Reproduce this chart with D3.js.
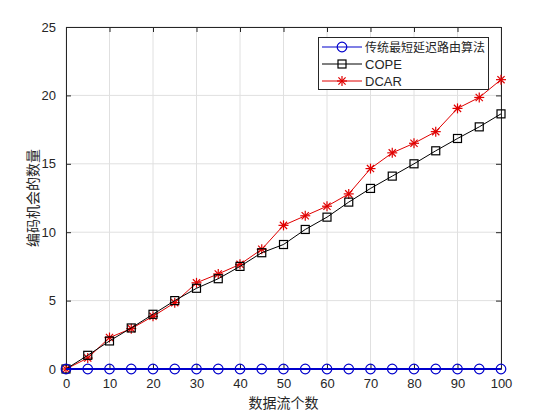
<!DOCTYPE html>
<html><head><meta charset="utf-8">
<script src="https://cdn.jsdelivr.net/npm/d3@7"></script>
<style>body{margin:0;background:#fff}svg{display:block}</style>
</head><body>
<script>
const xValues = [0,5,10,15,20,25,30,35,40,45,50,55,60,65,70,75,80,85,90,95,100];
const shortestPath = [0,0,0,0,0,0,0,0,0,0,0,0,0,0,0,0,0,0,0,0,0];
const cope = [0,1.0,2.05,3.0,4.0,5.0,5.9,6.6,7.5,8.5,9.1,10.2,11.1,12.2,13.2,14.1,15.0,15.95,16.85,17.7,18.65];
const dcar = [0,0.8,2.3,2.95,3.85,4.85,6.3,6.95,7.65,8.75,10.5,11.2,11.9,12.8,14.65,15.8,16.5,17.35,19.05,19.85,21.15];
const seriesNames = ["传统最短延迟路由算法","COPE","DCAR"];
const xTicks = [0,10,20,30,40,50,60,70,80,90,100];
const yTicks = [0,5,10,15,20,25];

const W=556,H=412;
const m={l:66,r:55,t:27,b:43};
const svg=d3.select("body").append("svg").attr("width",W).attr("height",H);
const x=d3.scaleLinear().domain([0,100]).range([m.l,W-m.r]);
const y=d3.scaleLinear().domain([0,25]).range([H-m.b,m.t]);
const font="Liberation Sans, Arial, sans-serif";

// grid
const g=svg.append("g");
g.selectAll(".vg").data(xTicks).join("line").attr("x1",d=>x(d)).attr("x2",d=>x(d)).attr("y1",y(0)).attr("y2",y(25)).attr("stroke","#e0e0e0").attr("stroke-width",1);
g.selectAll(".hg").data(yTicks).join("line").attr("y1",d=>y(d)).attr("y2",d=>y(d)).attr("x1",x(0)).attr("x2",x(100)).attr("stroke","#e0e0e0").attr("stroke-width",1);

// axes
const xAxis=d3.axisBottom(x).tickValues(xTicks).tickSizeInner(-5).tickSizeOuter(0).tickPadding(10);
const yAxis=d3.axisLeft(y).tickValues(yTicks).tickSizeInner(-5).tickSizeOuter(0).tickPadding(10);
const xa=svg.append("g").attr("transform",`translate(0,${y(0)})`).call(xAxis);
const ya=svg.append("g").attr("transform",`translate(${x(0)},0)`).call(yAxis);
const xt=svg.append("g").attr("transform",`translate(0,${y(25)})`).call(d3.axisTop(x).tickValues(xTicks).tickSizeInner(-5).tickSizeOuter(0).tickFormat(""));
const yr=svg.append("g").attr("transform",`translate(${x(100)},0)`).call(d3.axisRight(y).tickValues(yTicks).tickSizeInner(-5).tickSizeOuter(0).tickFormat(""));
[xa,ya,xt,yr].forEach(a=>{a.selectAll("path,line").attr("stroke","#262626");a.selectAll("text").attr("font-family",font).attr("font-size",13).attr("fill","#262626");});

// labels
svg.append("text").attr("x",(x(0)+x(100))/2).attr("y",408).attr("text-anchor","middle").attr("font-family","Noto Sans CJK SC").attr("font-size",14).attr("fill","#262626").text("数据流个数");
svg.append("text").attr("transform",`translate(38,${(y(0)+y(25))/2}) rotate(-90)`).attr("text-anchor","middle").attr("font-family","Noto Sans CJK SC").attr("font-size",14).attr("fill","#262626").text("编码机会的数量");

const line=d3.line().x((d,i)=>x(xValues[i])).y(d=>y(d));
function star(sel,cx,cy,r,color){
  const gg=sel.append("g").attr("stroke",color).attr("stroke-width",1.2);
  gg.append("line").attr("x1",cx-r).attr("x2",cx+r).attr("y1",cy).attr("y2",cy);
  gg.append("line").attr("x1",cx).attr("x2",cx).attr("y1",cy-r).attr("y2",cy+r);
  const k=r*0.72;
  gg.append("line").attr("x1",cx-k).attr("x2",cx+k).attr("y1",cy-k).attr("y2",cy+k);
  gg.append("line").attr("x1",cx-k).attr("x2",cx+k).attr("y1",cy+k).attr("y2",cy-k);
}
function drawMarker(sel,type,cx,cy){
  if(type===0) sel.append("circle").attr("cx",cx).attr("cy",cy).attr("r",4.8).attr("fill","none").attr("stroke","#0000cc").attr("stroke-width",1.2);
  else if(type===1) sel.append("rect").attr("x",cx-4).attr("y",cy-4).attr("width",8).attr("height",8).attr("fill","none").attr("stroke","#000").attr("stroke-width",1.2);
  else star(sel,cx,cy,5,"#e00000");
}
const series=[shortestPath,cope,dcar];
const colors=["#0000cc","#000000","#e00000"];
const widths=[1.8,1,1];
// draw order: DCAR first then COPE, then blue on top
[2,1,0].forEach(s=>{
  svg.append("path").datum(series[s]).attr("d",line).attr("fill","none").attr("stroke",colors[s]).attr("stroke-width",widths[s]);
  const mg=svg.append("g");
  series[s].forEach((v,i)=>drawMarker(mg,s,x(xValues[i]),y(v)));
});

// legend
const lg=svg.append("g");
lg.append("rect").attr("x",318.5).attr("y",37.5).attr("width",170).attr("height",52).attr("fill","#fff").attr("stroke","#262626").attr("stroke-width",1);
seriesNames.forEach((n,i)=>{
  const yy=47+i*17;
  lg.append("line").attr("x1",322).attr("x2",362).attr("y1",yy).attr("y2",yy).attr("stroke",colors[i]).attr("stroke-width",i===0?1.2:1);
  drawMarker(lg,i,342,yy);
  lg.append("text").attr("x",365).attr("y",yy+4.5).attr("font-family",i===0?"Noto Sans CJK SC":font).attr("font-size",i===0?12:13).attr("fill","#262626").text(n);
});
</script>
</body></html>
